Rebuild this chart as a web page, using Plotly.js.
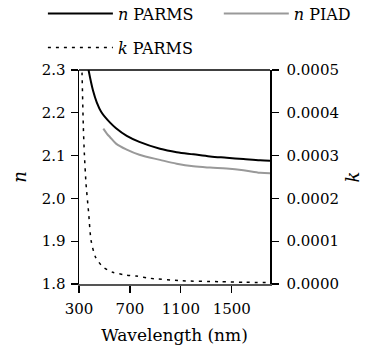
<!DOCTYPE html>
<html>
<head>
<meta charset="utf-8">
<script src="https://cdn.plot.ly/plotly-3.0.1.min.js"></script>
<style>html,body{margin:0;padding:0;background:#fff;}#chart{width:366px;height:349px;}</style>
</head>
<body>
<div id="chart"></div>
<script>
// n PARMS (black solid)
const nParmsWl = [375, 410, 440, 475, 544, 591, 675, 774, 936, 1067, 1198, 1329, 1460, 1591, 1722, 1800];
const nParmsVal = [2.300, 2.252, 2.224, 2.202, 2.177, 2.164, 2.146, 2.132, 2.116, 2.108, 2.103, 2.098, 2.095, 2.092, 2.089, 2.088];
// n PIAD (gray solid)
const nPiadWl = [491, 520, 544, 591, 675, 774, 936, 1067, 1198, 1329, 1460, 1591, 1722, 1800];
const nPiadVal = [2.163, 2.151, 2.143, 2.128, 2.114, 2.102, 2.090, 2.081, 2.075, 2.072, 2.070, 2.066, 2.060, 2.059];
// k PARMS (dotted, right axis)
const kParmsWl = [310, 318, 324, 334, 342, 355, 376, 394, 428, 486, 565, 669, 748, 860, 1095, 1408, 1604, 1800];
const kParmsVal = [0.00070, 0.00055, 0.00049, 0.000367, 0.000305, 0.000235, 0.000165, 0.000103, 0.0000636, 0.0000403, 0.0000273, 0.000021, 0.0000186, 0.0000133, 0.0000077, 0.0000054, 0.000004, 0.0000035];
// ticks
const xTicks = [300, 700, 1100, 1500];
const nTicks = [1.8, 1.9, 2.0, 2.1, 2.2, 2.3];
const kTicks = [0, 0.0001, 0.0002, 0.0003, 0.0004, 0.0005];

const FONT = 'DejaVu Serif';

const traces = [
  {x: nParmsWl, y: nParmsVal, name: '<i>n</i> PARMS', mode: 'lines', line: {color: '#000', width: 2, shape: 'spline', smoothing: 1}, legend: 'legend'},
  {x: nPiadWl, y: nPiadVal, name: '<i>n</i> PIAD', mode: 'lines', line: {color: '#999', width: 2, shape: 'spline', smoothing: 1}, legend: 'legend3'},
  {x: kParmsWl, y: kParmsVal, name: '<i>k</i> PARMS', mode: 'lines', yaxis: 'y2', line: {color: '#000', width: 1.5, dash: '3px,5px', shape: 'spline', smoothing: 0.6}, legend: 'legend2'}
];

const legCommon = {orientation: 'h', xanchor: 'left', yanchor: 'middle', itemwidth: 65, font: {family: FONT, size: 16, color: '#000'}, bgcolor: 'rgba(0,0,0,0)', borderwidth: 0};

const layout = {
  width: 366, height: 349,
  margin: {l: 79, r: 96, t: 69.5, b: 65, autoexpand: false},
  paper_bgcolor: '#fff', plot_bgcolor: '#fff',
  font: {family: FONT, size: 15, color: '#000'},
  showlegend: true,
  legend: Object.assign({}, legCommon, {x: -0.189, y: 1.263}),
  legend3: Object.assign({}, legCommon, {x: 0.732, y: 1.263}),
  legend2: Object.assign({}, legCommon, {x: -0.189, y: 1.105}),
  xaxis: {
    range: [300, 1800], tickvals: xTicks, ticktext: xTicks.map(String),
    tickfont: {family: FONT, size: 15, color: '#000'}, tickangle: 0, ticklabelstandoff: 3,
    showgrid: false, zeroline: false, showline: true, linecolor: '#555', linewidth: 1.5,
    ticks: 'outside', ticklen: 7, tickcolor: '#000', tickwidth: 1.2,
    title: {text: 'Wavelength (nm)', font: {family: FONT, size: 17}, standoff: 12},
    automargin: false
  },
  yaxis: {
    range: [1.8, 2.3], tickvals: nTicks, ticktext: nTicks.map(v => v.toFixed(1)),
    tickfont: {family: FONT, size: 15, color: '#000'}, ticklabelstandoff: 2,
    showgrid: false, zeroline: false, showline: true, linecolor: '#000', linewidth: 1.5,
    ticks: 'outside', ticklen: 7, tickcolor: '#000', tickwidth: 1.2,
    title: {text: '<i>n</i>', font: {family: FONT, size: 18}, standoff: 10},
    automargin: false
  },
  yaxis2: {
    range: [0, 0.0005], tickvals: kTicks, ticktext: kTicks.map(v => v.toFixed(4)),
    tickfont: {family: FONT, size: 15, color: '#000'}, ticklabelstandoff: 5,
    overlaying: 'y', side: 'right',
    showgrid: false, zeroline: false, showline: true, linecolor: '#000', linewidth: 1.5,
    ticks: 'outside', ticklen: 7, tickcolor: '#000', tickwidth: 1.2,
    title: {text: '<i>k</i>', font: {family: FONT, size: 18}, standoff: 8},
    automargin: false
  },
  shapes: [
    {type: 'line', xref: 'paper', yref: 'paper', x0: 0, x1: 1, y0: 1, y1: 1, line: {color: '#000', width: 1.5}}
  ]
};

Plotly.newPlot('chart', traces, layout, {displayModeBar: false, staticPlot: true});
</script>
</body>
</html>
